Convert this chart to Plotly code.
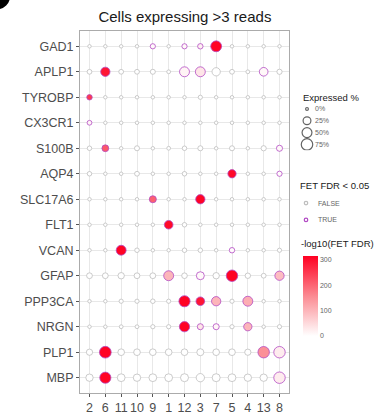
import numpy as np
import plotly.graph_objects as go

# Clusters (x) and marker genes (y, top to bottom)
clusters = ["2", "6", "11", "10", "9", "1", "12", "3", "7", "5", "4", "13", "8"]
genes = ["GAD1", "APLP1", "TYROBP", "CX3CR1", "S100B", "AQP4", "SLC17A6",
         "FLT1", "VCAN", "GFAP", "PPP3CA", "NRGN", "PLP1", "MBP"]

# Percentage of cells expressing >3 reads, one row per gene
expressed_pct = [
    [0.5, 0.5, 0.5, 0.5, 6, 0.5, 6, 7, 65, 0.5, 0.5, 0.5, 0.5],     # GAD1
    [4, 42, 4, 4, 5, 1, 51, 51, 30, 4, 1, 34, 6],                   # APLP1
    [7, 0.5, 0.5, 0.5, 0.5, 0.5, 0.5, 2, 0.5, 0.5, 0.5, 0.5, 0.5],  # TYROBP
    [4, 0.5, 0.5, 0.5, 0.5, 0.5, 0.5, 0.5, 0.5, 0.5, 0.5, 0.5, 0.5],  # CX3CR1
    [3, 16, 0.5, 5, 0.5, 1, 3, 5, 0.5, 5, 0.5, 6, 11],              # S100B
    [3, 0.5, 0.5, 4, 0.5, 0.5, 3, 0.5, 0.5, 30, 0.5, 0.5, 6],       # AQP4
    [0.5, 0.5, 0.5, 0.5, 18, 0.5, 0.5, 42, 0.5, 0.5, 0.5, 0.5, 0.5],  # SLC17A6
    [0.5, 0.5, 0.5, 0.5, 0.5, 34, 3, 0.5, 0.5, 0.5, 0.5, 0.5, 0.5],  # FLT1
    [0.5, 0.5, 51, 3, 0.5, 0.5, 3, 3, 0.5, 7, 0.5, 0.5, 2],         # VCAN
    [9, 9, 13, 9, 9, 51, 8, 27, 13, 75, 7, 4, 42],                  # GFAP
    [0.5, 0.5, 2, 2, 3, 2, 70, 34, 42, 2, 51, 0.5, 0.5],            # PPP3CA
    [0.5, 0.5, 1, 1, 2, 2, 55, 11, 11, 2, 30, 0.5, 2],              # NRGN
    [12, 80, 15, 15, 15, 15, 15, 18, 15, 15, 12, 75, 75],           # PLP1
    [21, 70, 25, 21, 25, 25, 27, 30, 27, 25, 21, 21, 75],           # MBP
]

# -log10 of the Fisher exact test FDR, same layout
neg_log10_fdr = [
    [0, 0, 0, 0, 8, 0, 10, 20, 312, 0, 0, 0, 0],      # GAD1
    [0, 290, 0, 0, 0, 0, 15, 35, 0, 0, 0, 10, 0],     # APLP1
    [250, 0, 0, 0, 0, 0, 0, 0, 0, 0, 0, 0, 0],        # TYROBP
    [15, 0, 0, 0, 0, 0, 0, 0, 0, 0, 0, 0, 0],         # CX3CR1
    [0, 215, 0, 0, 0, 0, 0, 0, 0, 0, 0, 0, 8],        # S100B
    [0, 0, 0, 0, 0, 0, 0, 0, 0, 305, 0, 0, 6],        # AQP4
    [0, 0, 0, 0, 205, 0, 0, 310, 0, 0, 0, 0, 0],      # SLC17A6
    [0, 0, 0, 0, 0, 305, 0, 0, 0, 0, 0, 0, 0],        # FLT1
    [0, 0, 312, 0, 0, 0, 0, 0, 0, 5, 0, 0, 0],        # VCAN
    [0, 0, 0, 0, 0, 100, 0, 8, 0, 312, 0, 0, 90],     # GFAP
    [0, 0, 0, 0, 0, 0, 312, 290, 100, 0, 110, 0, 0],  # PPP3CA
    [0, 0, 0, 0, 0, 0, 312, 35, 12, 0, 100, 0, 0],    # NRGN
    [0, 312, 0, 0, 0, 0, 0, 0, 0, 0, 0, 150, 25],     # PLP1
    [0, 312, 0, 0, 0, 0, 0, 0, 0, 0, 0, 0, 25],       # MBP
]

size_legend_pct = [0, 25, 50, 75]
size_legend_labels = ["0%", "25%", "50%", "75%"]
fdr_legend_labels = ["FALSE", "TRUE"]
colorbar_ticks = [0, 100, 200, 300]

FONT = "Liberation Sans, Arial, sans-serif"
GREY = "#BEBEBE"
PURPLE = "#B24BC4"
FILL_SCALE = [[0.0, "#FFFFFF"], [0.5, "#FB8A92"], [1.0, "#FF0022"]]
FDR_MAX = 315


def dot_size(pct):
    """Marker diameter (px) from percent expressed, area-style scaling."""
    return 2.8 + 10.0 * np.sqrt(np.asarray(pct, dtype=float) / 100.0)


pct = np.array(expressed_pct, dtype=float)
fdr = np.array(neg_log10_fdr, dtype=float)
significant = fdr > -np.log10(0.05)

xs = np.tile(clusters, len(genes))
ys = np.repeat(genes, len(clusters))

fig = go.Figure()

fig.add_trace(go.Scatter(
    x=xs, y=ys, mode="markers", showlegend=False,
    marker=dict(
        size=dot_size(pct.ravel()),
        color=fdr.ravel(), colorscale=FILL_SCALE, cmin=0, cmax=FDR_MAX,
        opacity=1,
        line=dict(color=np.where(significant.ravel(), PURPLE, GREY), width=0.8),
        colorbar=dict(
            x=0.748, xanchor="left", y=0.268, yanchor="middle",
            len=80, lenmode="pixels", thickness=15, xpad=0, ypad=0,
            outlinewidth=0, tickvals=colorbar_ticks, ticks="",
            tickfont=dict(family=FONT, size=7, color="#666666"),
        ),
    ),
))

# Size key
fig.add_trace(go.Scatter(
    x=[0] * len(size_legend_pct), y=size_legend_labels, mode="markers",
    xaxis="x2", yaxis="y2", showlegend=False, hoverinfo="skip",
    marker=dict(size=dot_size(size_legend_pct), color="white",
                line=dict(color="#222222", width=1.2)),
))

# Significance key
fig.add_trace(go.Scatter(
    x=[0, 0], y=fdr_legend_labels, mode="markers",
    xaxis="x3", yaxis="y3", showlegend=False, hoverinfo="skip",
    marker=dict(size=3.5, color="white", line=dict(color=[GREY, PURPLE], width=1.2)),
))

grid = "#E8E8E8"
border = "#ABABAB"
tick_font = dict(family=FONT, size=12.5, color="#4D4D4D")


def px_x(px):
    return (px - 80) / 298


def px_y(py):
    return (398 - py) / 367


fig.update_layout(
    width=378, height=415,
    margin=dict(l=80, r=0, t=31, b=17),
    paper_bgcolor="white", plot_bgcolor="white",
    font=dict(family=FONT),
    title=dict(text="Cells expressing >3 reads", x=0.352, xref="paper",
               xanchor="center", y=1 - 17 / 415, yref="container",
               yanchor="middle", font=dict(family=FONT, size=15, color="#1A1A1A")),
    xaxis=dict(type="category", categoryorder="array", categoryarray=clusters,
               range=[-0.6, len(clusters) - 0.4], domain=[0, 209 / 298],
               showgrid=True, gridcolor=grid, gridwidth=1, zeroline=False,
               showline=True, mirror=True, linecolor=border, linewidth=1,
               ticks="outside", ticklen=3, tickcolor="#555555",
               tickfont=tick_font),
    yaxis=dict(type="category", categoryorder="array", categoryarray=genes,
               range=[len(genes) - 0.4, -0.6], domain=[0, 1],
               showgrid=True, gridcolor=grid, gridwidth=1, zeroline=False,
               showline=True, mirror=True, linecolor=border, linewidth=1,
               ticks="outside", ticklen=3, tickcolor="#555555",
               tickfont=tick_font),
    xaxis2=dict(domain=[0.7383, 0.7852], range=[-1, 1], visible=False,
                anchor="y2", fixedrange=True),
    yaxis2=dict(domain=[px_y(152), px_y(104)], type="category", categoryorder="array",
                categoryarray=size_legend_labels, range=[3.5, -0.5],
                side="right", anchor="x2", showgrid=False, showline=False,
                zeroline=False, ticks="",
                tickfont=dict(family=FONT, size=7, color="#666666")),
    xaxis3=dict(domain=[0.7215, 0.7953], range=[-1, 1], visible=False,
                anchor="y3", fixedrange=True),
    yaxis3=dict(domain=[px_y(231), px_y(197)], type="category", categoryorder="array",
                categoryarray=fdr_legend_labels, range=[1.5, -0.5],
                side="right", anchor="x3", showgrid=False, showline=False,
                zeroline=False, ticks="",
                tickfont=dict(family=FONT, size=7, color="#666666")),
)

for text, px, py in [("Expressed %", 301, 98),
                     ("FET FDR < 0.05", 298, 188),
                     ("-log10(FET FDR)", 299, 246)]:
    fig.add_annotation(text=text, x=px_x(px), y=px_y(py), xref="paper", yref="paper",
                       xanchor="left", yanchor="middle", showarrow=False,
                       font=dict(family=FONT, size=9.5, color="#1A1A1A"))

# Corner of the panel letter bleeding in at the top-left
fig.add_shape(type="circle", xref="paper", yref="paper",
              x0=px_x(-16), x1=px_x(10), y0=px_y(9), y1=px_y(-17),
              fillcolor="black", line=dict(width=0))

fig.write_html("out.html")
